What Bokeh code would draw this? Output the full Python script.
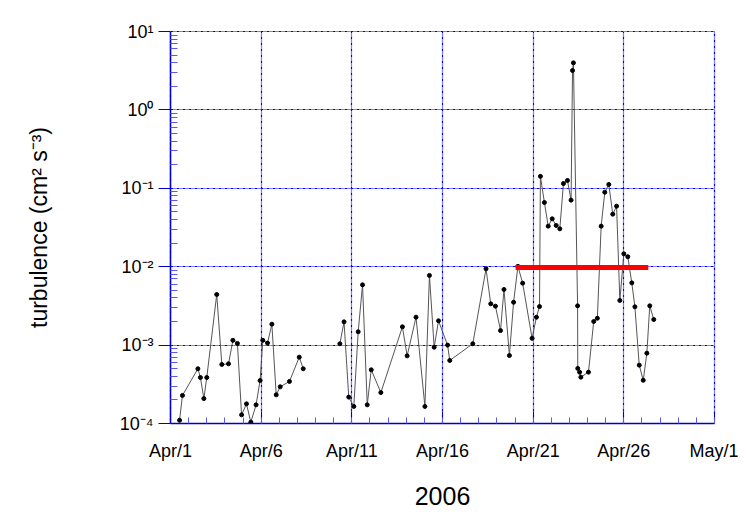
import math
from bokeh.plotting import figure
from bokeh.models import Range1d, FixedTicker, CustomJSTickFormatter, ColumnDataSource
from bokeh.embed import file_html
from bokeh.resources import INLINE

# ---- data (April day, fractional) ----
days_1 = [1.5, 1.66, 2.51, 2.65, 2.84, 3.0, 3.55, 3.83, 4.2, 4.44, 4.69, 4.92,
          5.19, 5.43, 5.72, 5.94, 6.09, 6.35, 6.59, 6.83, 7.05, 7.56, 8.1, 8.32]
turb_1 = [1.10e-4, 2.28e-4, 4.99e-4, 3.86e-4, 2.08e-4, 3.86e-4, 4.42e-3, 5.66e-4,
          5.77e-4, 1.15e-3, 1.05e-3, 1.29e-4, 1.78e-4, 1.04e-4, 1.73e-4, 3.53e-4,
          1.15e-3, 1.06e-3, 1.85e-3, 2.32e-4, 2.94e-4, 3.44e-4, 7.02e-4, 4.99e-4]

days_2 = [10.34, 10.57, 10.83, 11.11, 11.35, 11.59, 11.85, 12.07, 12.6, 13.79,
          14.05, 14.54, 15.03, 15.28, 15.54, 15.78, 16.28, 16.4, 17.67, 18.4,
          18.66, 18.92, 19.2, 19.39, 19.69, 19.92, 20.16, 20.42, 20.94, 21.18,
          21.35, 21.4, 21.62, 21.83, 22.05, 22.27, 22.47, 22.67, 22.89, 23.09,
          23.17, 23.22, 23.45, 23.46, 23.56, 23.63, 24.05, 24.34, 24.54, 24.75,
          24.95, 25.17, 25.39, 25.6, 25.78, 26.0, 26.22, 26.44, 26.61, 26.85,
          27.07, 27.27, 27.43, 27.65]
turb_2 = [1.04e-3, 1.98e-3, 2.17e-4, 1.65e-4, 1.48e-3, 5.87e-3, 1.73e-4, 4.84e-4,
          2.48e-4, 1.71e-3, 7.29e-4, 2.27e-3, 1.65e-4, 7.73e-3, 9.40e-4, 2.04e-3,
          1.00e-3, 6.37e-4, 1.04e-3, 9.40e-3, 3.36e-3, 3.14e-3, 1.53e-3, 5.12e-3,
          7.36e-4, 3.52e-3, 1.01e-2, 6.17e-3, 1.22e-3, 2.27e-3, 3.10e-3, 0.142,
          0.0659, 0.0329, 0.0408, 0.0336, 0.0304, 0.115, 0.126, 0.0706,
          3.18, 3.98, 3.17e-3, 5.04e-4, 4.52e-4, 3.90e-4, 4.52e-4, 2.00e-3,
          2.20e-3, 0.0329, 0.0891, 0.112, 0.0468, 0.0592, 3.71e-3, 0.0146,
          0.0134, 6.22e-3, 3.08e-3, 5.55e-4, 3.56e-4, 7.89e-4, 3.17e-3, 2.12e-3]

bar_start = [20.03]
bar_end = [27.35]
bar_level = [0.0098]

xtick_vals = [1, 6, 11, 16, 21, 26, 31]
xtick_labels = ["Apr/1", "Apr/6", "Apr/11", "Apr/16", "Apr/21", "Apr/26", "May/1"]
ytick_vals = [1e-4, 1e-3, 1e-2, 1e-1, 1e0, 1e1]
ytick_labels = ["10\u207b\u2074", "10\u207b\u00b3", "10\u207b\u00b2", "10\u207b\u00b9", "10\u2070", "10\u00b9"]

FONT = "Liberation Sans"
BLUE = "#0000cc"
GRID = "#0000ff"

p = figure(frame_width=544, frame_height=392, y_axis_type="log",
           x_range=Range1d(1, 31), y_range=Range1d(1e-4, 1e1),
           output_backend="svg", toolbar_location=None,
           min_border_left=170, min_border_top=31, min_border_right=24,
           min_border_bottom=88, background_fill_color="white",
           border_fill_color="white")

p.outline_line_color = GRID
p.outline_line_dash = "3 1 1 1"
p.outline_line_width = 1.2

# x axis
minor_x = list(range(1, 32))
p.xaxis.ticker = FixedTicker(ticks=xtick_vals, minor_ticks=minor_x)
p.xaxis.major_label_overrides = dict(zip(xtick_vals, xtick_labels))
p.xaxis.axis_label = "2006"
# y axis
minor_y = []
for k in range(-4, 1):
    for m in range(2, 10):
        minor_y.append(m * 10.0 ** k)
p.yaxis.ticker = FixedTicker(ticks=ytick_vals, minor_ticks=minor_y)
p.yaxis.formatter = CustomJSTickFormatter(args=dict(vals=ytick_vals, labs=ytick_labels), code="""
    let best = 0, bd = 1e9;
    for (let i = 0; i < vals.length; i++) {
        const d = Math.abs(Math.log10(vals[i]) - Math.log10(tick));
        if (d < bd) { bd = d; best = i; }
    }
    return labs[best];
""")
p.yaxis.axis_label = "turbulence (cm\u00b2 s\u207b\u00b3)"

for ax in [p.xaxis, p.yaxis]:
    ax.axis_line_color = BLUE
    ax.axis_line_width = 1.5
    ax.major_tick_line_color = BLUE
    ax.minor_tick_line_color = "#5a5aee"
    ax.major_label_text_font = FONT
    ax.major_label_text_font_size = "18px"
    ax.major_label_text_color = "black"
    ax.axis_label_text_font = FONT
    ax.axis_label_text_font_style = "normal"
    ax.axis_label_text_color = "black"

p.xaxis.major_tick_in = 12
p.xaxis.major_tick_out = 0
p.xaxis.minor_tick_in = 6
p.xaxis.minor_tick_out = 0
p.xaxis.major_label_standoff = 17
p.xaxis.axis_label_standoff = 23
p.xaxis.axis_label_text_font_size = "25px"

p.yaxis.major_tick_in = 0
p.yaxis.major_tick_out = 12
p.yaxis.minor_tick_in = 7
p.yaxis.minor_tick_out = 0
p.yaxis.major_label_standoff = 5
p.yaxis.axis_label_standoff = 65
p.yaxis.axis_label_text_font_size = "23px"

for g in [p.xgrid, p.ygrid]:
    g.grid_line_color = GRID
    g.grid_line_dash = "3 1 1 1"
    g.grid_line_width = 1.2

line_x = days_1 + [float("nan")] + days_2
line_y = turb_1 + [float("nan")] + turb_2
p.line(line_x, line_y, line_color="#555555", line_width=1)
p.scatter(days_1 + days_2, turb_1 + turb_2, size=4, color="black")
p.segment(x0=bar_start, y0=bar_level, x1=bar_end, y1=bar_level,
          line_color="#ff0000", line_width=5)

open("out.html", "w").write(file_html(p, INLINE))
